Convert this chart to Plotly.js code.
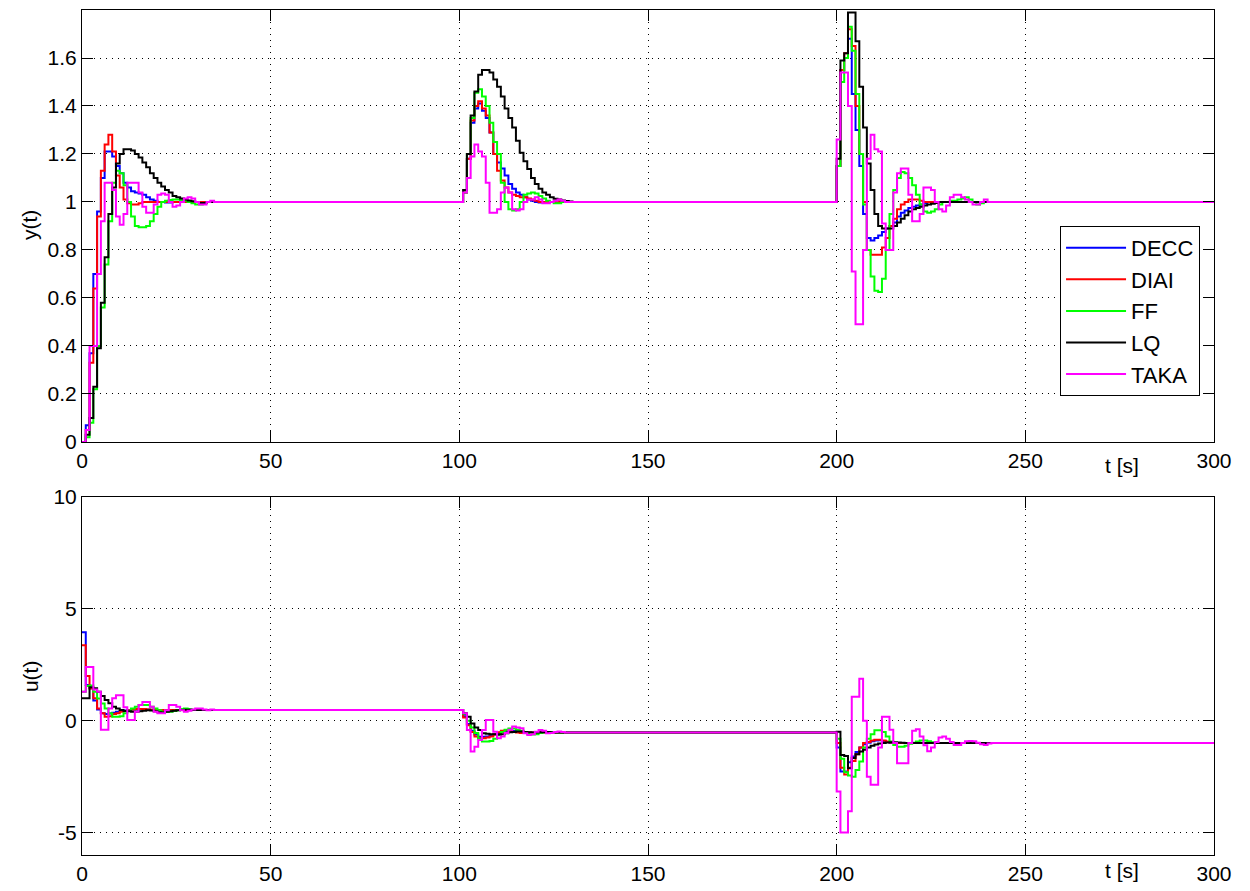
<!DOCTYPE html>
<html>
<head>
<meta charset="utf-8">
<script src="https://cdn.plot.ly/plotly-3.0.1.min.js"></script>
<style>
  html, body { margin: 0; padding: 0; background: #fff; }
  #chart { width: 1250px; height: 891px; }
</style>
</head>
<body>
<div id="chart"></div>
<script>
// ---------- data (sample time 1 s, each window starts at its start time) ----------
const Ts = 1;
const winStart = [0, 100, 200];
const tEnd = 300;

const seriesNames = ["DECC", "DIAI", "FF", "LQ", "TAKA"];
const seriesColors = ["#0000ff", "#ff0000", "#00ff00", "#000000", "#ff00ff"];

// y(t) -- window 0..
const DECC_yA = [0, 0.07, 0.37, 0.70, 0.96, 1.10, 1.21, 1.21, 1.19, 1.15, 1.12, 1.08, 1.06, 1.045, 1.04, 1.035, 1.03, 1.02, 1.01, 1.005, 1.0, 1.0, 0.998, 0.998, 1.0, 1.0, 1.002, 1.002, 1.0];
const DIAI_yA = [0, 0.05, 0.33, 0.64, 0.94, 1.13, 1.24, 1.28, 1.21, 1.11, 1.06, 1.01, 0.995, 0.99, 0.99, 0.995, 1.0];
const FF_yA   = [0, 0.02, 0.08, 0.22, 0.4, 0.56, 0.74, 0.92, 1.08, 1.13, 1.12, 1.07, 1.0, 0.94, 0.9, 0.895, 0.895, 0.9, 0.92, 0.95, 0.98, 1.0, 1.005, 1.008, 1.01, 1.01, 1.008, 1.005, 1.0, 0.995, 0.99, 0.99, 0.995, 1.0];
const LQ_yA   = [0, 0.03, 0.1, 0.23, 0.39, 0.58, 0.77, 0.95, 1.06, 1.16, 1.2, 1.22, 1.22, 1.215, 1.2, 1.185, 1.165, 1.145, 1.12, 1.1, 1.08, 1.065, 1.05, 1.04, 1.025, 1.02, 1.015, 1.01, 1.006, 1.003, 1.0, 0.996, 0.996, 1.0];
const TAKA_yA = [0, 0.05, 0.4, 0.4, 0.7, 0.92, 1.08, 1.08, 1.05, 0.94, 0.905, 0.95, 1.08, 1.08, 1.08, 1.04, 0.98, 0.955, 0.955, 0.99, 1.03, 1.035, 1.03, 1.0, 0.98, 0.985, 1.0, 1.015, 1.02, 1.015, 1.0, 0.99, 0.99, 1.0, 1.005, 1.0];
// y(t) -- window 100..
const DECC_yB = [1.0, 1.04, 1.18, 1.33, 1.39, 1.41, 1.38, 1.35, 1.29, 1.2, 1.165, 1.14, 1.11, 1.075, 1.055, 1.04, 1.03, 1.02, 1.01, 1.005, 1.0, 0.998, 0.998, 1.0];
const DIAI_yB = [1.0, 1.04, 1.18, 1.34, 1.40, 1.42, 1.39, 1.36, 1.29, 1.2, 1.13, 1.09, 1.06, 1.04, 1.03, 1.025, 1.02, 1.02, 1.015, 1.01, 1.005, 1.0];
const FF_yB   = [1.0, 1.04, 1.2, 1.35, 1.455, 1.47, 1.44, 1.40, 1.33, 1.25, 1.2, 1.08, 1.0, 0.97, 0.965, 0.97, 1.0, 1.03, 1.035, 1.04, 1.035, 1.025, 1.015, 1.005, 1.0, 0.995, 0.995, 1.0];
const LQ_yB   = [1.0, 1.05, 1.2, 1.36, 1.46, 1.53, 1.55, 1.55, 1.54, 1.51, 1.48, 1.44, 1.39, 1.35, 1.31, 1.255, 1.205, 1.17, 1.137, 1.10, 1.075, 1.055, 1.04, 1.03, 1.02, 1.013, 1.01, 1.006, 1.004, 1.002, 1.0];
const TAKA_yB = [1.0, 1.04, 1.1, 1.19, 1.24, 1.21, 1.19, 1.08, 0.955, 0.955, 0.97, 1.04, 1.06, 1.04, 0.97, 0.965, 0.97, 1.0, 1.01, 1.01, 1.02, 1.01, 0.995, 0.995, 1.0, 1.005, 1.01, 1.005, 1.0];
// y(t) -- window 200..
const DECC_yC = [1.15, 1.55, 1.6, 1.68, 1.45, 1.3, 1.15, 0.95, 0.85, 0.84, 0.85, 0.86, 0.875, 0.89, 0.9, 0.915, 0.94, 0.955, 0.965, 0.975, 0.98, 0.985, 0.99, 0.995, 1.0];
const DIAI_yC = [1.15, 1.55, 1.62, 1.72, 1.65, 1.4, 1.2, 1.0, 0.8, 0.78, 0.78, 0.78, 0.81, 0.85, 0.9, 0.93, 0.97, 0.99, 1.0, 1.01, 1.01, 1.01, 1.005, 1.0];
const FF_yC   = [1.15, 1.5, 1.6, 1.73, 1.63, 1.45, 1.2, 0.99, 0.8, 0.69, 0.63, 0.625, 0.68, 0.8, 0.95, 1.05, 1.1, 1.125, 1.12, 1.1, 1.07, 1.03, 0.99, 0.96, 0.955, 0.96, 0.97, 0.99, 1.0, 1.0, 1.005, 1.005, 1.01, 1.015, 1.02, 1.01, 1.0, 0.99, 0.995, 1.0];
const LQ_yC   = [1.18, 1.59, 1.62, 1.79, 1.79, 1.67, 1.48, 1.31, 1.16, 1.05, 0.95, 0.9, 0.89, 0.89, 0.89, 0.9, 0.915, 0.93, 0.945, 0.96, 0.97, 0.975, 0.98, 0.985, 0.99, 0.993, 0.996, 1.0];
const TAKA_yC = [1.26, 1.54, 1.54, 1.4, 0.71, 0.49, 0.49, 0.8, 1.18, 1.28, 1.22, 1.21, 0.91, 0.8, 0.8, 1.04, 1.12, 1.14, 1.14, 1.03, 0.92, 0.92, 0.95, 1.06, 1.06, 1.05, 1.0, 0.97, 0.96, 0.985, 1.02, 1.03, 1.03, 1.02, 1.01, 1.0, 0.99, 0.99, 1.0, 1.01, 1.0];

// u(t) -- window 0..
const DECC_uA = [3.96, 1.6, 1.45, 0.9, 0.5, 0.33, 0.3, 0.32, 0.36, 0.4, 0.44, 0.46, 0.48, 0.5, 0.5, 0.5, 0.5, 0.5, 0.49, 0.48];
const DIAI_uA = [3.37, 2.0, 1.44, 1.0, 0.55, 0.33, 0.18, 0.2, 0.3, 0.33, 0.4, 0.44, 0.47, 0.5, 0.52, 0.53, 0.52, 0.5, 0.49, 0.48];
const FF_uA   = [1.3, 1.55, 1.58, 1.29, 0.99, 0.77, 0.55, 0.33, 0.18, 0.18, 0.2, 0.33, 0.45, 0.55, 0.62, 0.7, 0.7, 0.7, 0.62, 0.55, 0.47, 0.4, 0.4, 0.4, 0.44, 0.47, 0.52, 0.55, 0.52, 0.49, 0.48];
const LQ_uA   = [1.0, 1.0, 1.5, 1.45, 1.3, 1.1, 0.93, 0.78, 0.63, 0.55, 0.48, 0.44, 0.42, 0.4, 0.4, 0.42, 0.45, 0.47, 0.46, 0.42, 0.38, 0.37, 0.4, 0.42, 0.45, 0.47, 0.48, 0.49, 0.49, 0.48];
const TAKA_uA = [1.29, 2.4, 2.4, 1.4, 1.29, -0.4, -0.4, 0.55, 1.0, 1.14, 1.14, 0.6, 0.03, 0.03, 0.4, 0.7, 0.84, 0.84, 0.62, 0.4, 0.33, 0.33, 0.47, 0.7, 0.7, 0.62, 0.47, 0.4, 0.45, 0.5, 0.55, 0.55, 0.5, 0.47, 0.5, 0.48];
// u(t) -- window 100..
const DECC_uB = [0.48, 0.2, -0.15, -0.45, -0.62, -0.72, -0.72, -0.7, -0.65, -0.6, -0.55, -0.5, -0.48, -0.46, -0.46, -0.48, -0.5, -0.52, -0.53];
const DIAI_uB = [0.48, 0.15, -0.2, -0.5, -0.7, -0.78, -0.78, -0.75, -0.7, -0.62, -0.52, -0.45, -0.43, -0.45, -0.5, -0.53, -0.55, -0.55, -0.53];
const FF_uB   = [0.48, 0.3, 0.0, -0.3, -0.55, -0.8, -0.93, -0.93, -0.9, -0.8, -0.65, -0.5, -0.4, -0.35, -0.35, -0.4, -0.45, -0.52, -0.58, -0.62, -0.6, -0.55, -0.52, -0.5, -0.5, -0.52, -0.53];
const LQ_uB   = [0.48, 0.33, 0.18, -0.12, -0.3, -0.41, -0.56, -0.58, -0.6, -0.6, -0.62, -0.6, -0.56, -0.52, -0.5, -0.48, -0.48, -0.5, -0.52, -0.53, -0.53, -0.52, -0.5, -0.5, -0.52, -0.53];
const TAKA_uB = [0.48, 0.33, -0.41, -1.38, -1.16, -0.86, -0.41, 0.03, 0.03, -0.49, -0.78, -0.7, -0.55, -0.4, -0.26, -0.3, -0.34, -0.56, -0.64, -0.6, -0.49, -0.41, -0.45, -0.56, -0.55, -0.5, -0.48, -0.5, -0.53];
// u(t) -- window 200..
const DECC_uC = [-1.2, -2.27, -2.27, -1.85, -1.6, -1.4, -1.2, -1.05, -0.98, -0.92, -0.88, -0.87, -0.9, -0.95, -0.98, -1.0];
const DIAI_uC = [-1.0, -2.1, -2.4, -2.1, -1.8, -1.5, -1.2, -1.0, -0.95, -0.88, -0.85, -0.85, -0.88, -0.93, -0.97, -1.0];
const FF_uC   = [-0.8, -1.7, -2.3, -2.45, -2.5, -2.2, -1.82, -1.2, -0.8, -0.6, -0.43, -0.43, -0.5, -0.71, -0.93, -1.08, -1.16, -1.16, -1.12, -1.03, -0.98, -0.93, -0.88, -0.88, -0.92, -0.96, -1.0];
const LQ_uC   = [-0.49, -1.53, -1.58, -2.12, -1.67, -1.5, -1.38, -1.3, -1.2, -1.12, -1.06, -1.02, -0.99, -0.97, -0.96, -0.96, -0.97, -0.98, -0.99, -1.0];
const TAKA_uC = [-3.16, -5.0, -5.0, -4.04, 1.07, 1.07, 1.88, 0.0, -2.5, -2.86, -2.86, -1.2, 0.18, 0.18, -0.4, -1.0, -1.9, -1.9, -1.9, -1.0, -0.45, -0.38, -0.7, -1.1, -1.36, -1.2, -0.95, -0.75, -0.71, -0.8, -0.95, -1.08, -1.08, -1.0, -0.92, -0.9, -0.92, -0.98, -1.05, -1.08, -1.02, -1.0];

const yWindows = {
  DECC: [DECC_yA, DECC_yB, DECC_yC], DIAI: [DIAI_yA, DIAI_yB, DIAI_yC],
  FF: [FF_yA, FF_yB, FF_yC], LQ: [LQ_yA, LQ_yB, LQ_yC], TAKA: [TAKA_yA, TAKA_yB, TAKA_yC]
};
const uWindows = {
  DECC: [DECC_uA, DECC_uB, DECC_uC], DIAI: [DIAI_uA, DIAI_uB, DIAI_uC],
  FF: [FF_uA, FF_uB, FF_uC], LQ: [LQ_uA, LQ_uB, LQ_uC], TAKA: [TAKA_uA, TAKA_uB, TAKA_uC]
};

const xTicks = [0, 50, 100, 150, 200, 250, 300];
const yTickVals = [0, 0.2, 0.4, 0.6, 0.8, 1, 1.2, 1.4, 1.6];
const yTickText = ["0", "0.2", "0.4", "0.6", "0.8", "1", "1.2", "1.4", "1.6"];
const uTickVals = [-5, 0, 5, 10];
const uTickText = ["-5", "0", "5", "10"];

// ---------- build step series ----------
function buildSeries(windows) {
  const t = [], v = [];
  windows.forEach((w, k) => {
    w.forEach((val, i) => { t.push(winStart[k] + i * Ts); v.push(val); });
  });
  t.push(tEnd); v.push(v[v.length - 1]);
  return { t, v };
}

const FONT = "Liberation Sans, Arial, Helvetica, sans-serif";
const traces = [];
seriesNames.forEach((name, i) => {
  const s = buildSeries(yWindows[name]);
  traces.push({
    x: s.t, y: s.v, xaxis: "x", yaxis: "y", name: name, type: "scatter", mode: "lines",
    line: { color: seriesColors[i], width: 2, shape: "hv" }, showlegend: true
  });
});
seriesNames.forEach((name, i) => {
  const s = buildSeries(uWindows[name]);
  traces.push({
    x: s.t, y: s.v, xaxis: "x2", yaxis: "y2", name: name, type: "scatter", mode: "lines",
    line: { color: seriesColors[i], width: 2, shape: "hv" }, showlegend: false
  });
});

const axisCommon = {
  showline: true, linecolor: "#000", linewidth: 1, mirror: "ticks",
  ticks: "inside", ticklen: 11, tickcolor: "#000", tickwidth: 1,
  showgrid: true, gridcolor: "#000", gridwidth: 1, griddash: "1px,5px",
  zeroline: false, tickfont: { family: FONT, size: 21, color: "#000" }
};

const layout = {
  width: 1250, height: 891,
  margin: { l: 82, r: 36, t: 10, b: 36 },
  paper_bgcolor: "#fff", plot_bgcolor: "#fff",
  showlegend: true,
  legend: {
    x: 0.864, y: 0.7445, xanchor: "left", yanchor: "top",
    bgcolor: "#fff", bordercolor: "#000", borderwidth: 1,
    itemwidth: 60,
    font: { family: FONT, size: 22, color: "#000" }
  },
  xaxis: Object.assign({}, axisCommon, { domain: [0, 1], anchor: "y", range: [0, 300], tickvals: xTicks }),
  yaxis: Object.assign({}, axisCommon, { domain: [0.4888, 1], anchor: "x", range: [0, 1.8], tickvals: yTickVals, ticktext: yTickText }),
  xaxis2: Object.assign({}, axisCommon, { domain: [0, 1], anchor: "y2", range: [0, 300], tickvals: xTicks }),
  yaxis2: Object.assign({}, axisCommon, { domain: [0, 0.4237], anchor: "x2", range: [-6, 10], tickvals: uTickVals, ticktext: uTickText }),
  annotations: [
    { text: "t [s]", xref: "paper", yref: "paper", x: 0.9187, y: 0.4615, xanchor: "center", yanchor: "middle", showarrow: false, font: { family: FONT, size: 21, color: "#000" } },
    { text: "t [s]", xref: "paper", yref: "paper", x: 0.9187, y: -0.0189, xanchor: "center", yanchor: "middle", showarrow: false, font: { family: FONT, size: 21, color: "#000" } },
    { text: "y(t)", xref: "paper", yref: "paper", x: -0.0459, y: 0.7456, xanchor: "center", yanchor: "middle", textangle: -90, showarrow: false, font: { family: FONT, size: 21, color: "#000" } },
    { text: "u(t)", xref: "paper", yref: "paper", x: -0.0459, y: 0.2118, xanchor: "center", yanchor: "middle", textangle: -90, showarrow: false, font: { family: FONT, size: 21, color: "#000" } }
  ]
};

Plotly.newPlot("chart", traces, layout, { displayModeBar: false, staticPlot: true });
</script>
</body>
</html>
